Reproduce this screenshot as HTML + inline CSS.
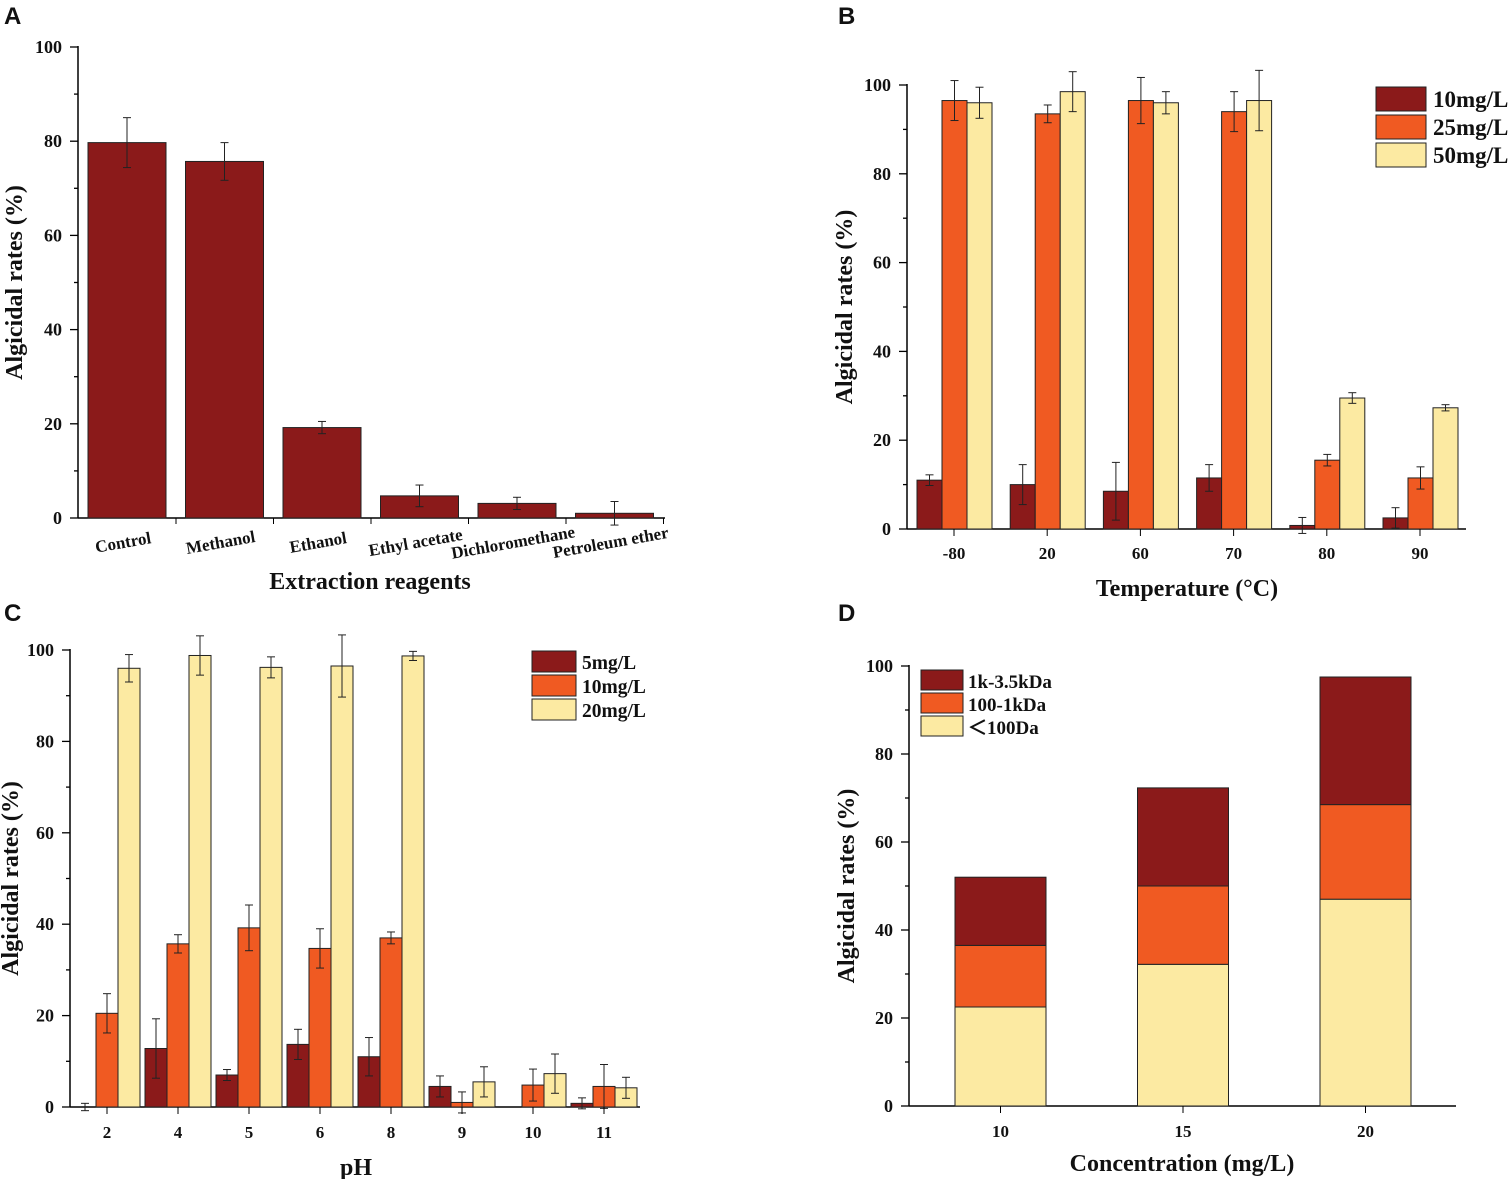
<!DOCTYPE html>
<html><head><meta charset="utf-8"><style>
body{margin:0;background:#fff}
svg text{font-family:"Liberation Serif",serif;font-weight:bold;fill:#111}
</style></head><body>
<svg id="s" xmlns="http://www.w3.org/2000/svg" width="1510" height="1179" viewBox="0 0 1510 1179">
<text x="4" y="24" style="font-family:'Liberation Sans',sans-serif" font-size="24">A</text>
<text x="838" y="24" style="font-family:'Liberation Sans',sans-serif" font-size="24">B</text>
<text x="4" y="621" style="font-family:'Liberation Sans',sans-serif" font-size="24">C</text>
<text x="838" y="621" style="font-family:'Liberation Sans',sans-serif" font-size="24">D</text>
</svg>
<script>
const s=document.getElementById('s'),NS='http://www.w3.org/2000/svg';
function el(t,a,txt){const e=document.createElementNS(NS,t);for(const k in a)e.setAttribute(k,a[k]);if(txt!==undefined)e.textContent=txt;s.appendChild(e);return e;}
const R='#8B1A1A',O='#F05A22',Y='#FCEAA2';
function axes(x0,y0,y100,xend,ytitle,xtitle,xtx,xty,ytx){
  const k=(y0-y100)/100;
  el('line',{x1:x0,y1:y0,x2:x0,y2:y100-1,stroke:'#000','stroke-width':1.5});
  el('line',{x1:x0,y1:y0,x2:xend,y2:y0,stroke:'#000','stroke-width':1.5});
  for(let v=0;v<=100;v+=10){const y=y0-v*k;el('line',{x1:x0-(v%20?4:8),y1:y,x2:x0,y2:y,stroke:'#000','stroke-width':1.3});
    if(v%20==0)el('text',{x:x0-16,y:y+6,'text-anchor':'end','font-size':18},v);}
  el('text',{x:xtx,y:xty,'text-anchor':'middle','font-size':24},xtitle);
  const cy=(y0+y100)/2;el('text',{x:ytx,y:cy,'text-anchor':'middle','font-size':24,transform:`rotate(-90 ${ytx} ${cy})`},ytitle);
  return k;
}
function bar(x,w,y0,k,v,c,e){el('rect',{x:x,y:y0-v*k,width:w,height:v*k,fill:c,stroke:'#222','stroke-width':1});
  if(e){const cx=x+w/2;el('line',{x1:cx,y1:y0-(v+e)*k,x2:cx,y2:y0-(v-e)*k,stroke:'#222','stroke-width':1});
   for(const vv of[v+e,v-e])el('line',{x1:cx-4,y1:y0-vv*k,x2:cx+4,y2:y0-vv*k,stroke:'#222','stroke-width':1});}}
// A
let k=axes(78,518,47,665,'Algicidal rates (%)','Extraction reagents',370,589,22);
const A=[['Control',79.7,5.3],['Methanol',75.7,4],['Ethanol',19.2,1.3],['Ethyl acetate',4.7,2.3],['Dichloromethane',3.1,1.3],['Petroleum ether',1,2.5]];
A.forEach((d,i)=>{const x=88+i*97.5;bar(x,78,518,k,d[1],R,d[2]);const cx=x+35;
 el('line',{x1:x+88,y1:518,x2:x+88,y2:524,stroke:'#000'});
 el('text',{x:cx,y:548,'text-anchor':'middle','font-size':17,transform:`rotate(-10 ${cx} 542)`},d[0]);});
// B
k=axes(907,529,85,1466,'Algicidal rates (%)','Temperature (°C)',1187,596,852);
const B=[['-80',[11,1.2],[96.5,4.5],[96,3.5]],['20',[10,4.5],[93.5,2],[98.5,4.5]],['60',[8.5,6.5],[96.5,5.2],[96,2.5]],['70',[11.5,3],[94,4.5],[96.5,6.8]],['80',[0.8,1.8],[15.5,1.3],[29.5,1.2]],['90',[2.5,2.3],[11.5,2.5],[27.3,0.7]]];
B.forEach((d,i)=>{const c=954+i*93.2;[R,O,Y].forEach((col,j)=>bar(c-37+j*25,25,529,k,d[j+1][0],col,d[j+1][1]));
 el('line',{x1:c,y1:529,x2:c,y2:536,stroke:'#000'});el('text',{x:c,y:559,'text-anchor':'middle','font-size':17},d[0]);});
[[R,'10mg/L'],[O,'25mg/L'],[Y,'50mg/L']].forEach((d,i)=>{el('rect',{x:1376,y:87+i*28,width:50,height:24,fill:d[0],stroke:'#222'});el('text',{x:1433,y:107+i*28,'font-size':23},d[1]);});
// C
k=axes(70,1107,650,640,'Algicidal rates (%)','pH',356,1175,18);
const C=[['2',[0,0.8],[20.5,4.3],[96,3]],['4',[12.8,6.5],[35.7,2],[98.8,4.3]],['5',[7,1.2],[39.2,5],[96.2,2.3]],['6',[13.7,3.3],[34.7,4.3],[96.5,6.8]],['8',[11,4.2],[37,1.3],[98.7,1]],['9',[4.5,2.3],[1,2.3],[5.5,3.3]],['10',[0,0],[4.8,3.5],[7.3,4.3]],['11',[0.8,1.2],[4.5,4.8],[4.2,2.3]]];
C.forEach((d,i)=>{const c=107+i*71;[R,O,Y].forEach((col,j)=>{if(d[j+1][0]>0||d[j+1][1]>0)bar(c-33+j*22,22,1107,k,d[j+1][0],col,d[j+1][1]);});
 el('line',{x1:c,y1:1107,x2:c,y2:1114,stroke:'#000'});el('text',{x:c,y:1138,'text-anchor':'middle','font-size':17},d[0]);});
[[R,'5mg/L'],[O,'10mg/L'],[Y,'20mg/L']].forEach((d,i)=>{el('rect',{x:532,y:651+i*24,width:44,height:21,fill:d[0],stroke:'#222'});el('text',{x:582,y:669+i*24,'font-size':19.5},d[1]);});
// D
k=axes(909,1106,666,1456,'Algicidal rates (%)','Concentration (mg/L)',1182,1171,854);
const D=[['10',22.5,36.5,52],['15',32.2,50,72.3],['20',47,68.5,97.5]];
D.forEach((d,i)=>{const x=955+i*182.5,c=x+45.5;
 el('rect',{x:x,y:1106-d[1]*k,width:91,height:d[1]*k,fill:Y,stroke:'#222'});
 el('rect',{x:x,y:1106-d[2]*k,width:91,height:(d[2]-d[1])*k,fill:O,stroke:'#222'});
 el('rect',{x:x,y:1106-d[3]*k,width:91,height:(d[3]-d[2])*k,fill:R,stroke:'#222'});
 el('line',{x1:c,y1:1106,x2:c,y2:1113,stroke:'#000'});el('text',{x:c,y:1137,'text-anchor':'middle','font-size':17},d[0]);});
[[R,'1k-3.5kDa'],[O,'100-1kDa'],[Y,'＜100Da']].forEach((d,i)=>{el('rect',{x:921,y:670+i*23,width:42,height:20,fill:d[0],stroke:'#222'});el('text',{x:968,y:688+i*23,'font-size':19},d[1]);});
</script>
</body></html>
